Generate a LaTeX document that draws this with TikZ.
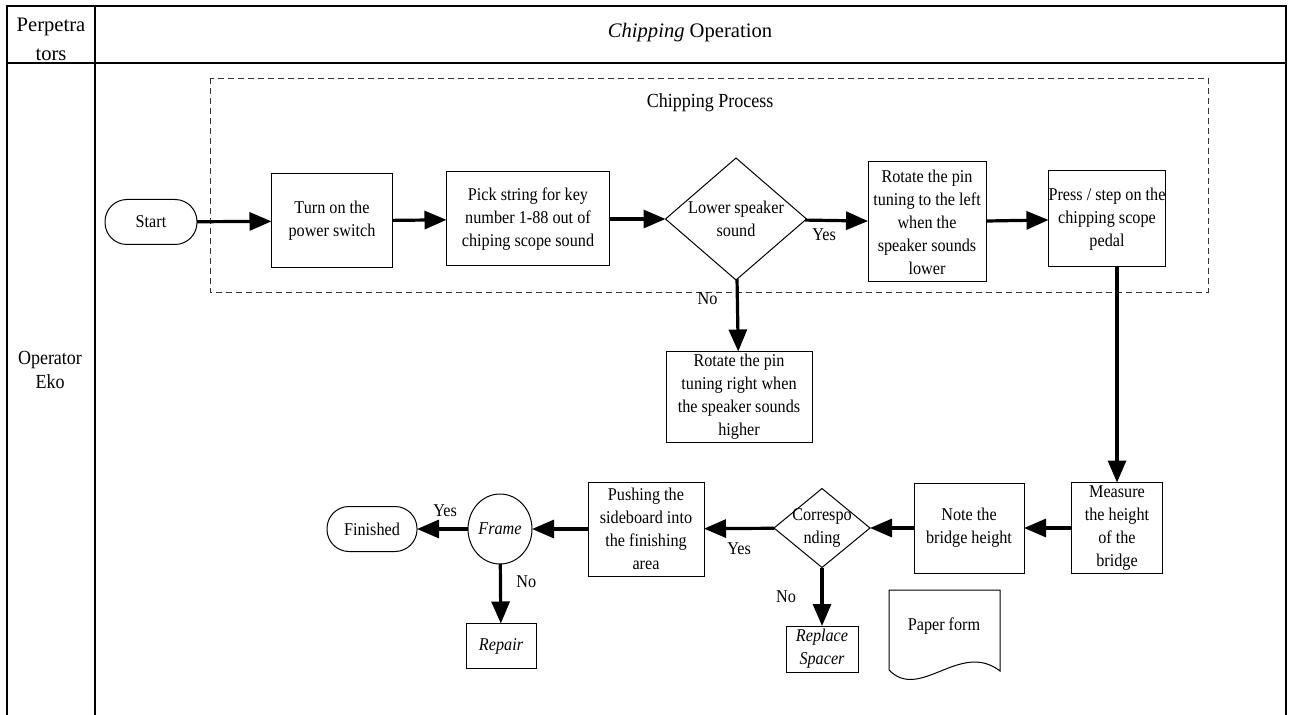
\documentclass[tikz,border=0pt]{standalone}
\usepackage{fontspec}
\setmainfont{Liberation Serif}
\newfontfamily\narrowserif[FakeStretch=0.9]{Liberation Serif}
\usetikzlibrary{arrows.meta,shapes.geometric}

\newcommand{\flowfont}{\narrowserif\fontsize{9}{11.5}\selectfont}
\newcommand{\headfont}{\fontsize{10.3}{14.5}\selectfont}

\begin{document}
\begin{tikzpicture}[x=0.5pt,y=-0.5pt,
  every node/.style={font=\flowfont, inner sep=0pt, outer sep=0pt},
  box/.style 2 args={draw, line width=0.5pt, align=center, minimum width=#1, minimum height=#2},
  term/.style={draw, line width=0.5pt, rounded corners=11pt, minimum width=#1, minimum height=22.5pt},
  decision/.style 2 args={draw, line width=0.5pt, diamond, minimum width=#1, minimum height=#2},
  flow/.style={line width=1.6pt, -{Triangle[length=11pt,width=9pt]}},
  lane/.style={line width=0.7pt}]
\useasboundingbox (0,0) rectangle (1293,715);

% table of the lane
\draw[lane] (7,715) -- (7,6) -- (1286,6) -- (1286,715);
\draw[lane] (7,63) -- (1286,63);
\draw[lane] (95,6) -- (95,715);
\node[font=\headfont, align=center] (perp) at (51,39) {Perpetra\\tors};
\node[font=\headfont] (oper) at (690,33) {\textit{Chipping} Operation};
\node[font=\narrowserif\fontsize{10}{12}\selectfont, align=center] (eko) at (50,370) {Operator\\Eko};

% chipping process group
\draw[densely dashed, line width=0.4pt, black!80] (210,78) rectangle (1208,292);
\node[font=\narrowserif\fontsize{10}{12}\selectfont] (proc) at (710,103) {Chipping Process};

% top row
\node[term=46pt] (start) at (151,222) {Start};
\node[box={60.5pt}{47pt}] (power) at (332,221) {Turn on the\\power switch};
\node[box={81.5pt}{47pt}] (pick) at (528,219) {Pick string for key\\number 1-88 out of\\chiping scope sound};
\node[decision={70.5pt}{61pt}] (lower) at (736,219) {};
\node[align=center] (lowertxt) at (736,219) {Lower speaker\\sound};
\node[box={59pt}{60pt}] (rleft) at (927,222) {Rotate the pin\\tuning to the left\\when the\\speaker sounds\\lower};
\node[box={58pt}{48pt}] (press) at (1107,219) {Press / step on the\\chipping scope\\pedal};
\node[box={73pt}{45.5pt}] (rright) at (739,397) {Rotate the pin\\tuning right when\\the speaker sounds\\higher};

% bottom row
\node[box={45.5pt}{45.5pt}] (measure) at (1117,528) {Measure\\the height\\of the\\bridge};
\node[box={55pt}{45pt}] (note) at (969,528) {Note the\\bridge height};
\node[decision={48pt}{39.5pt}] (corr) at (822,528) {};
\node[align=center] (corrtxt) at (822,528) {Correspo\\nding};
\node[box={36pt}{23pt}, font=\flowfont\itshape] (spacer) at (822,649) {Replace\\Spacer};
\node[box={58pt}{47pt}] (push) at (646,529) {Pushing the\\sideboard into\\the finishing\\area};
\node[draw, line width=0.5pt, ellipse, minimum width=32pt, minimum height=35pt, font=\flowfont\itshape] (frame) at (500,529) {Frame};
\node[term=45pt] (finished) at (372,529) {Finished};
\node[box={35pt}{22.5pt}, font=\flowfont\itshape] (repair) at (501,646) {Repair};

% paper form
\draw[line width=0.5pt] (889,670) -- (889,590) -- (1000,590) -- (1000,671)
  .. controls (960,640) and (920,702) .. (889,670);
\node (paper) at (944,626) {Paper form};

% connectors
\draw[flow] (start) -- (power);
\draw[flow] (power) -- (pick);
\draw[flow] (pick) -- (lower);
\draw[flow] (lower) -- node[below, pos=0.3, yshift=-4pt] (yes1) {Yes} (rleft);
\draw[flow] (lower) -- node[left, pos=0.27, xshift=-10pt] (no1) {No} (rright);
\draw[flow] (rleft) -- (press);
\draw[flow] (measure.north |- press.south) -- (measure.north);
\draw[flow] (measure) -- (note);
\draw[flow] (note) -- (corr);
\draw[flow] (corr) -- node[below, pos=0.5, yshift=-7pt] (yes2) {Yes} (push);
\draw[flow] (corr) -- node[left, pos=0.5, xshift=-13pt] (no2) {No} (spacer);
\draw[flow] (push) -- (frame);
\draw[flow] (frame) -- node[above, pos=0.45, yshift=6pt] (yes3) {Yes} (finished);
\draw[flow] (frame) -- node[right, pos=0.3, xshift=8pt] (no3) {No} (repair);
\end{tikzpicture}
\end{document}
